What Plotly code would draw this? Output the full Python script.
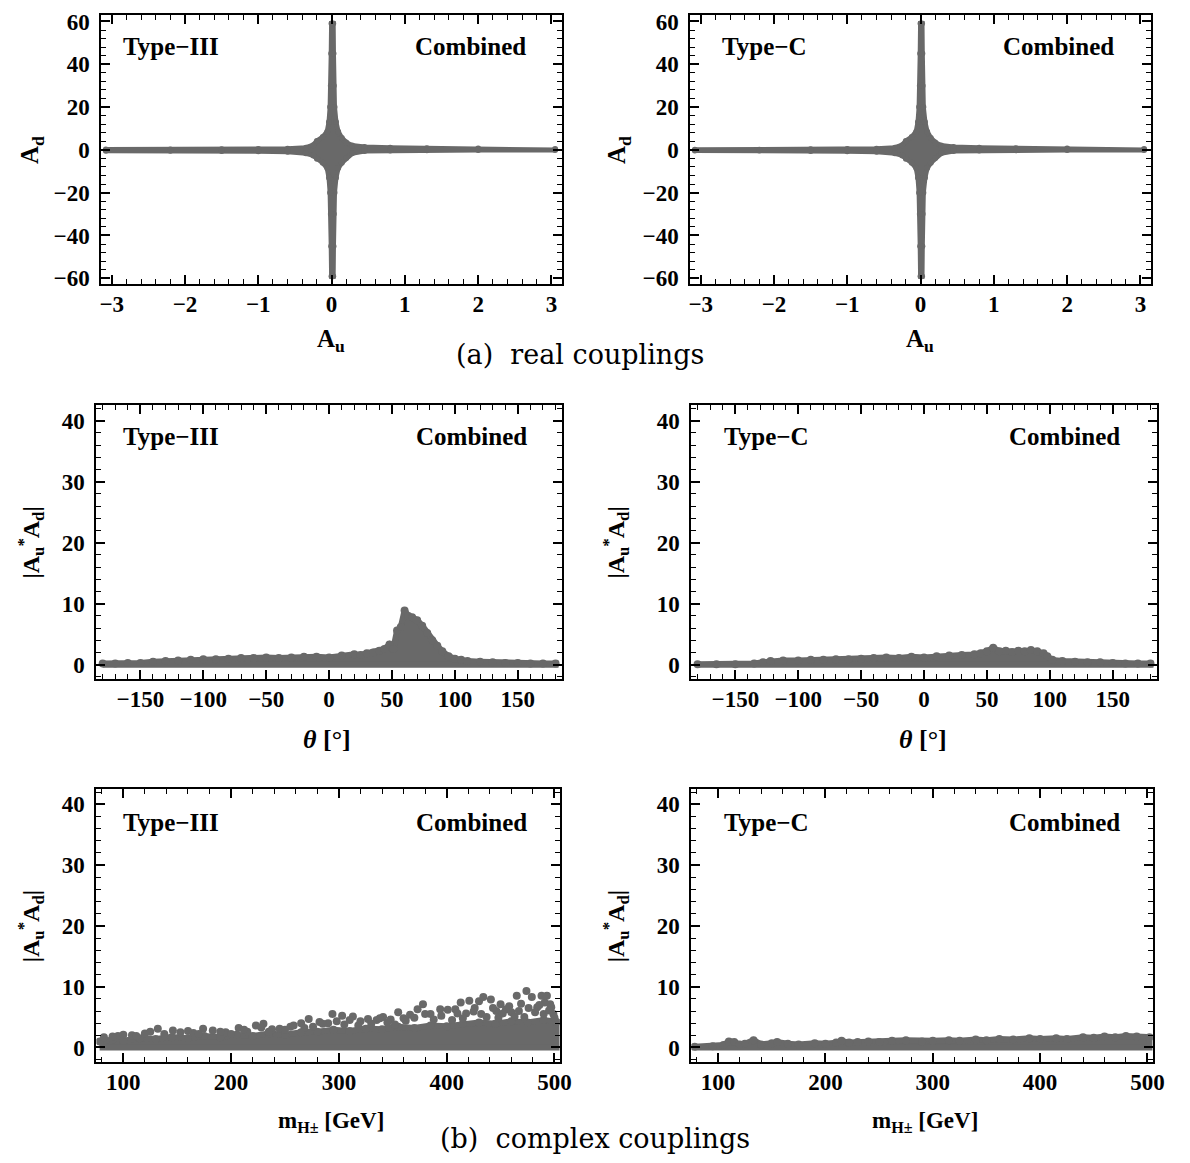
import plotly.graph_objects as go

W, H = 1190, 1163
GRAY = "#696969"

# ---------------- data (envelopes of the dense point clouds, dot centres) -------------
# Row 1: real couplings, A_u vs A_d (outline of the cross-shaped cloud)
t3_real_au = [-3.08, -2.2, -1.5, -1.0, -0.6, -0.35, -0.25, -0.2, -0.12, -0.06, -0.035, -0.02, -0.01, -0.005, 0.0,
              0.022, 0.026, 0.03, 0.04, 0.06, 0.09, 0.14, 0.2, 0.28, 0.45, 0.8, 1.3, 2.0, 3.05,
              3.05, 2.0, 1.3, 0.8, 0.45, 0.28, 0.2, 0.14, 0.09, 0.06, 0.04, 0.03, 0.026, 0.022,
              0.0, -0.005, -0.01, -0.02, -0.035, -0.06, -0.12, -0.2, -0.25, -0.35, -0.6, -1.0, -1.5, -2.2, -3.08]
t3_real_ad = [0.15, 0.15, 0.3, 0.35, 0.5, 1.0, 2.2, 4.2, 6.0, 8.5, 13, 20, 30, 45, 59,
              59, 45, 30, 20, 13, 8.5, 5.5, 3.5, 2.0, 1.3, 1.0, 0.8, 0.6, 0.4,
              -0.1, -0.1, -0.2, -0.3, -0.5, -1.6, -3.8, -6.0, -8.5, -13, -20, -30, -45, -59,
              -59, -45, -30, -20, -13, -8.5, -6.0, -4.2, -2.6, -1.6, -0.9, -0.6, -0.5, -0.4, -0.4]

tc_real_au = [-3.08, -2.2, -1.5, -1.0, -0.6, -0.35, -0.25, -0.2, -0.12, -0.06, -0.035, -0.02, -0.01, -0.005, 0.0,
              0.02, 0.024, 0.028, 0.038, 0.06, 0.09, 0.14, 0.2, 0.28, 0.45, 0.8, 1.3, 2.0, 3.05,
              3.05, 2.0, 1.3, 0.8, 0.45, 0.28, 0.2, 0.14, 0.09, 0.06, 0.038, 0.028, 0.024, 0.02,
              0.0, -0.005, -0.01, -0.02, -0.035, -0.06, -0.12, -0.2, -0.25, -0.35, -0.6, -1.0, -1.5, -2.2, -3.08]
tc_real_ad = [0.0, 0.1, 0.3, 0.35, 0.5, 1.0, 2.2, 4.2, 6.0, 8.5, 13, 20, 30, 45, 59,
              59, 45, 30, 20, 13, 8.5, 5.5, 3.5, 2.0, 1.3, 1.0, 0.8, 0.6, 0.4,
              -0.1, -0.1, -0.2, -0.3, -0.5, -1.6, -3.8, -6.0, -8.5, -13, -20, -30, -45, -59,
              -59, -45, -30, -20, -13, -8.5, -6.0, -4.2, -2.6, -1.6, -0.9, -0.6, -0.5, -0.3, -0.3]

# Row 2: |A_u* A_d| vs theta (upper envelope; cloud extends down to 0)
t3_theta = [-180, -170, -160, -150, -140, -130, -120, -110, -100, -90, -80, -70, -60, -50, -40, -30, -20, -10, 0,
            10, 20, 25, 30, 35, 40, 44, 48, 51, 54, 57, 60, 63, 66, 70, 74, 78, 82, 86, 90, 95, 100,
            105, 110, 120, 130, 140, 150, 160, 170, 180]
t3_theta_top = [0.2, 0.2, 0.3, 0.3, 0.5, 0.6, 0.7, 0.8, 0.9, 0.9, 1.0, 1.1, 1.1, 1.2, 1.1, 1.2, 1.3, 1.3, 1.2,
                1.5, 1.7, 1.6, 1.9, 2.0, 2.3, 2.6, 3.3, 2.6, 5.6, 6.2, 8.9, 8.0, 7.8, 7.3, 6.4, 5.2, 4.0, 3.1, 2.2,
                1.4, 1.0, 0.8, 0.6, 0.5, 0.4, 0.3, 0.3, 0.2, 0.2, 0.2]

tc_theta = [-180, -165, -150, -135, -128, -122, -112, -100, -90, -80, -70, -60, -50, -40, -30, -20, -10, 0,
            10, 20, 30, 40, 45, 50, 55, 60, 65, 70, 75, 80, 85, 90, 95, 98, 102, 110, 120, 130, 140, 150,
            160, 170, 180]
tc_theta_top = [0.1, 0.1, 0.1, 0.2, 0.4, 0.6, 0.7, 0.7, 0.8, 0.8, 0.9, 0.9, 1.0, 1.1, 1.2, 1.1, 1.3, 1.2,
                1.4, 1.5, 1.6, 1.7, 1.9, 2.2, 2.8, 2.2, 2.3, 2.1, 2.3, 2.2, 2.4, 2.2, 1.9, 1.4, 0.8, 0.6, 0.5,
                0.4, 0.4, 0.3, 0.2, 0.2, 0.2]

# Row 3: |A_u* A_d| vs m_H+ (dense band upper envelope + sparse points above it)
t3_mass = [78, 90, 100, 115, 130, 145, 160, 175, 190, 205, 220, 235, 250, 265, 280, 295, 310, 325, 340, 355,
           370, 385, 400, 415, 430, 445, 460, 475, 490, 502]
t3_mass_top = [1.0, 1.3, 1.1, 1.5, 1.4, 1.7, 1.5, 1.9, 1.7, 2.1, 1.9, 2.3, 2.1, 2.5, 2.6, 2.9, 2.7, 3.1, 3.0, 3.4,
               3.2, 3.6, 3.5, 3.9, 4.1, 3.9, 4.3, 4.1, 4.5, 4.2]
t3_pts_m = [82, 95, 108, 120, 132, 146, 153, 165, 174, 183, 195, 207, 215, 223, 230, 238, 245, 255, 265, 272,
            282, 290, 294, 303, 313, 320, 327, 335, 341, 348, 355, 360, 366, 373, 378, 385, 394, 401, 408, 413,
            418, 421, 426, 430, 432, 434, 441, 446, 450, 455, 460, 465, 469, 474, 479, 484, 488, 491, 493, 496,
            497, 499,
            90, 100, 112, 125, 138, 160, 170, 190, 200, 212, 228, 235, 250, 258, 268, 276, 285, 298, 305, 310,
            318, 330, 338, 345, 352, 362, 370, 380, 388, 395, 405, 410, 415, 425, 437, 443, 448, 452, 458, 463,
            467, 472, 476, 482, 486, 490, 495, 500]
t3_pts_v = [1.7, 1.9, 2.0, 2.3, 3.1, 2.8, 2.5, 2.4, 3.1, 2.8, 2.5, 3.2, 2.6, 3.6, 3.9, 3.0, 3.1, 3.4, 4.0, 4.7,
            4.2, 4.0, 5.5, 5.2, 5.1, 4.3, 4.7, 4.5, 5.0, 4.6, 5.8, 4.8, 5.4, 6.3, 7.1, 5.5, 6.3, 6.2, 6.3, 7.4,
            5.6, 7.7, 6.5, 7.6, 5.5, 8.3, 7.9, 6.0, 7.1, 6.3, 5.8, 8.5, 7.2, 9.3, 8.3, 6.6, 8.5, 7.4, 8.5, 7.1,
            6.6, 5.5,
            1.8, 2.1, 1.9, 2.6, 2.2, 2.7, 2.2, 2.6, 2.2, 2.9, 3.3, 2.6, 2.9, 3.6, 3.2, 3.4, 3.9, 4.3, 3.8, 4.5,
            3.6, 3.9, 4.8, 4.1, 3.8, 4.4, 4.9, 5.5, 4.6, 5.2, 4.5, 5.6, 4.8, 5.9, 5.0, 6.5, 4.9, 5.6, 6.8, 5.1,
            6.0, 5.0, 6.5, 5.8, 7.0, 5.5, 6.1, 4.9]

tc_mass = [78, 95, 105, 110, 115, 120, 125, 133, 140, 150, 155, 165, 175, 190, 200, 210, 215, 222, 230, 240,
           250, 262, 275, 290, 300, 315, 325, 340, 350, 362, 375, 390, 400, 415, 425, 440, 450, 460, 470, 480,
           490, 502]
tc_mass_top = [0.1, 0.2, 0.4, 1.0, 0.9, 0.5, 0.6, 1.2, 0.5, 0.7, 0.9, 0.6, 0.5, 0.7, 0.6, 0.8, 1.1, 0.8, 0.9,
               1.0, 0.9, 1.1, 1.2, 1.0, 1.1, 1.2, 1.1, 1.3, 1.2, 1.4, 1.3, 1.5, 1.4, 1.5, 1.4, 1.7, 1.6, 1.8,
               1.7, 1.9, 1.8, 1.7]

# tick settings
real_x_dtick, real_x_minor = 1, 0.2
real_y_dtick, real_y_minor = 20, 4
theta_dtick, theta_minor = 50, 10
mass_dtick, mass_minor = 100, 20
abs_dtick, abs_minor = 10, 2

# ---------------- layout geometry (pixels) ----------------
panels = {
    1: dict(x0=100.5, x1=566.5, y0=9.5, y1=281.5, xr=[-3.1416, 3.1416], yr=[-62.83, 62.83],
            xd=(real_x_dtick, real_x_minor), yd=(real_y_dtick, real_y_minor)),
    2: dict(x0=696.5, x1=1162.5, y0=9.5, y1=281.5, xr=[-3.1416, 3.1416], yr=[-62.83, 62.83],
            xd=(real_x_dtick, real_x_minor), yd=(real_y_dtick, real_y_minor)),
    3: dict(x0=95.5, x1=566.5, y0=404, y1=681, xr=[-185, 185], yr=[-2.4, 42.5],
            xd=(theta_dtick, theta_minor), yd=(abs_dtick, abs_minor)),
    4: dict(x0=697.5, x1=1168.5, y0=404, y1=681, xr=[-185, 185], yr=[-2.4, 42.5],
            xd=(theta_dtick, theta_minor), yd=(abs_dtick, abs_minor)),
    5: dict(x0=95.5, x1=564.5, y0=792, y1=1068, xr=[75, 505], yr=[-2.4, 42.5],
            xd=(mass_dtick, mass_minor), yd=(abs_dtick, abs_minor)),
    6: dict(x0=697.5, x1=1164.5, y0=792, y1=1068, xr=[75, 505], yr=[-2.4, 42.5],
            xd=(mass_dtick, mass_minor), yd=(abs_dtick, abs_minor)),
}

TICKFONT = dict(family="Liberation Serif", size=23, color="black", weight="bold")

fig = go.Figure()
layout = dict(width=W, height=H, margin=dict(l=0, r=0, t=0, b=0), autosize=False,
              paper_bgcolor="white", plot_bgcolor="white", showlegend=False)

for i, p in panels.items():
    xs = "" if i == 1 else str(i)
    common = dict(showline=True, mirror="allticks", linecolor="black", linewidth=2,
                  ticks="inside", ticklen=9, tickwidth=1.6, tickcolor="black",
                  showgrid=False, zeroline=False, tickfont=TICKFONT, tick0=0)
    layout["xaxis" + xs] = dict(common, domain=[p["x0"] / W, p["x1"] / W], range=p["xr"],
                                dtick=p["xd"][0], anchor="y" + xs, ticklabelstandoff=-2,
                                minor=dict(ticks="inside", ticklen=5, tickwidth=1.3, tickcolor="black",
                                           dtick=p["xd"][1], tick0=0))
    layout["yaxis" + xs] = dict(common, domain=[1 - p["y1"] / H, 1 - p["y0"] / H], range=p["yr"],
                                dtick=p["yd"][0], anchor="x" + xs, ticklabelstandoff=5,
                                minor=dict(ticks="inside", ticklen=5, tickwidth=1.3, tickcolor="black",
                                           dtick=p["yd"][1], tick0=0))

def band(xvals, top, xa, ya, lw):
    xs = list(xvals) + [xvals[-1], xvals[0]]
    ys = list(top) + [0, 0]
    return go.Scatter(x=xs, y=ys, xaxis=xa, yaxis=ya, mode="lines", fill="toself",
                      fillcolor=GRAY, line=dict(color=GRAY, width=lw), hoverinfo="skip")

def dots(xvals, yvals, xa, ya, size=8):
    return go.Scatter(x=xvals, y=yvals, xaxis=xa, yaxis=ya, mode="markers",
                      marker=dict(color=GRAY, size=size, line=dict(width=0)), hoverinfo="skip")

fig.add_trace(go.Scatter(x=t3_real_au, y=t3_real_ad, xaxis="x", yaxis="y", mode="lines", fill="toself",
                         fillcolor=GRAY, line=dict(color=GRAY, width=5)))
fig.add_trace(dots(t3_real_au, t3_real_ad, "x", "y", 6))
fig.add_trace(go.Scatter(x=tc_real_au, y=tc_real_ad, xaxis="x2", yaxis="y2", mode="lines", fill="toself",
                         fillcolor=GRAY, line=dict(color=GRAY, width=5)))
fig.add_trace(dots(tc_real_au, tc_real_ad, "x2", "y2", 6))
fig.add_trace(band(t3_theta, t3_theta_top, "x3", "y3", 6))
fig.add_trace(dots(t3_theta, t3_theta_top, "x3", "y3"))
fig.add_trace(band(tc_theta, tc_theta_top, "x4", "y4", 6))
fig.add_trace(dots(tc_theta, tc_theta_top, "x4", "y4"))
fig.add_trace(band(t3_mass, t3_mass_top, "x5", "y5", 6))
fig.add_trace(dots(t3_mass, t3_mass_top, "x5", "y5"))
fig.add_trace(dots(t3_pts_m, t3_pts_v, "x5", "y5"))
fig.add_trace(band(tc_mass, tc_mass_top, "x6", "y6", 6))
fig.add_trace(dots(tc_mass, tc_mass_top, "x6", "y6"))

# ---------------- annotations ----------------
ann = []
def txt(text, px, py, size=25, xanchor="center", angle=0, family="Liberation Serif", bold=True):
    t = "<b>" + text + "</b>" if bold else text
    ann.append(dict(text=t, x=px / W, y=1 - py / H, xref="paper", yref="paper", showarrow=False,
                    xanchor=xanchor, yanchor="middle", textangle=angle,
                    font=dict(family=family, size=size, color="black")))

# panel labels
for (lx, rx, py, lab) in [(120, 532, 41, "Type\u2212III"), (727, 1127, 41, "Type\u2212C"),
                          (120, 533, 435, "Type\u2212III"), (729, 1133, 435, "Type\u2212C"),
                          (120, 533, 826, "Type\u2212III"), (729, 1133, 826, "Type\u2212C")]:
    txt(lab, lx, py, xanchor="left")
    txt("Combined", rx, py, xanchor="right")

# axis titles
txt("A<sub>d</sub>", 30, 146, size=25, angle=-90)
txt("A<sub>u</sub>", 333, 338, size=25)
txt("A<sub>d</sub>", 624, 146, size=25, angle=-90)
txt("A<sub>u</sub>", 929, 338, size=25)
absl = "|A<sub>u</sub><sup>*</sup>A<sub>d</sub>|"
txt(absl, 29, 543, size=24, angle=-90)
txt(absl, 621, 543, size=24, angle=-90)
txt("<i>\u03b8</i> [\u00b0]", 329, 742, size=26)
txt("<i>\u03b8</i> [\u00b0]", 932, 742, size=26)
txt(absl, 29, 931, size=24, angle=-90)
txt(absl, 621, 931, size=24, angle=-90)
txt("m<sub>H\u00b1</sub> [GeV]", 333, 1129, size=23)
txt("m<sub>H\u00b1</sub> [GeV]", 934, 1129, size=23)

# captions
txt("(a)\u00a0 real couplings", 585, 352, size=27, family="DejaVu Serif", bold=False)
txt("(b)\u00a0 complex couplings", 600, 1145, size=27, family="DejaVu Serif", bold=False)

layout["annotations"] = ann
fig.update_layout(**layout)
fig.write_html("out.html", config={"displayModeBar": False},
               post_script="document.body.style.margin='0';document.body.style.overflow='hidden';")
